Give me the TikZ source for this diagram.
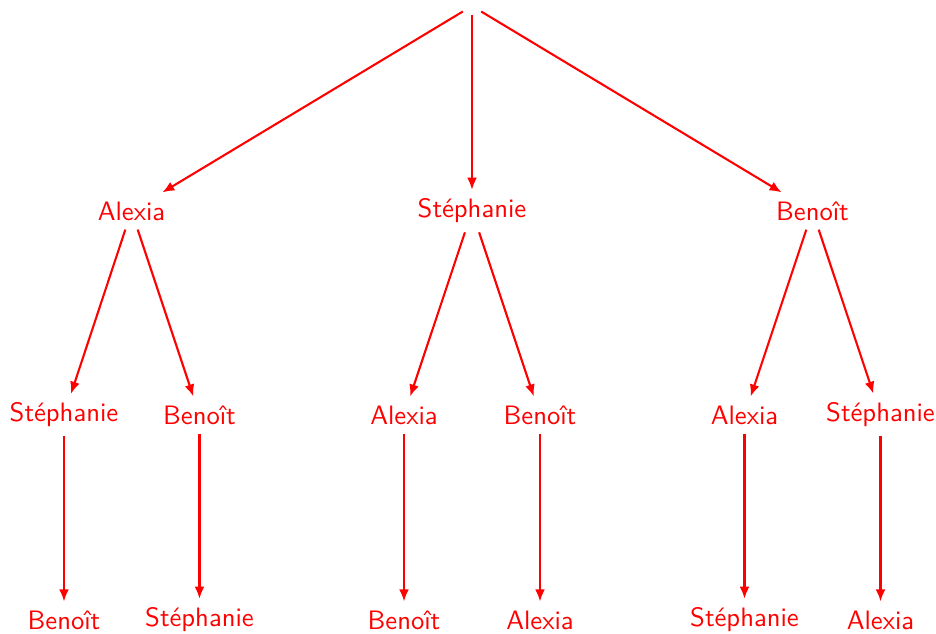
\documentclass[tikz,border=0pt]{standalone}
\usetikzlibrary{arrows.meta}
\begin{document}
\begin{tikzpicture}[x=0.384615pt,y=-0.384615pt,
  lbl/.style={text=red, font=\sffamily\fontsize{10.25}{12}\selectfont},
  edge/.style={red, line width=0.8pt, -{Latex[length=4.6pt,width=3.8pt]}}]
\useasboundingbox (0,0) rectangle (936,633);
% root
\node[lbl] (r) at (472,6) {};
% level 1
\node[lbl] (a) at (131.5,211) {Alexia};
\node[lbl] (s) at (472,211) {Stéphanie};
\node[lbl] (b) at (812.5,211) {Benoît};
% level 2
\node[lbl] (as) at (64,415) {Stéphanie};
\node[lbl] (ab) at (199.5,415) {Benoît};
\node[lbl] (sa) at (404,415) {Alexia};
\node[lbl] (sb) at (540,415) {Benoît};
\node[lbl] (ba) at (744.5,415) {Alexia};
\node[lbl] (bs) at (880.5,415) {Stéphanie};
% level 3
\node[lbl] (asb) at (64,620) {Benoît};
\node[lbl] (abs) at (199.5,620) {Stéphanie};
\node[lbl] (sab) at (404,620) {Benoît};
\node[lbl] (sba) at (540,620) {Alexia};
\node[lbl] (bas) at (744.5,620) {Stéphanie};
\node[lbl] (bsa) at (880.5,620) {Alexia};
% edges
\draw[edge] (r) -- (a);
\draw[edge] (r) -- (s);
\draw[edge] (r) -- (b);
\draw[edge] (a) -- (as);
\draw[edge] (a) -- (ab);
\draw[edge] (s) -- (sa);
\draw[edge] (s) -- (sb);
\draw[edge] (b) -- (ba);
\draw[edge] (b) -- (bs);
\draw[edge] (as) -- (asb);
\draw[edge] (ab) -- (abs);
\draw[edge] (sa) -- (sab);
\draw[edge] (sb) -- (sba);
\draw[edge] (ba) -- (bas);
\draw[edge] (bs) -- (bsa);
\end{tikzpicture}
\end{document}
